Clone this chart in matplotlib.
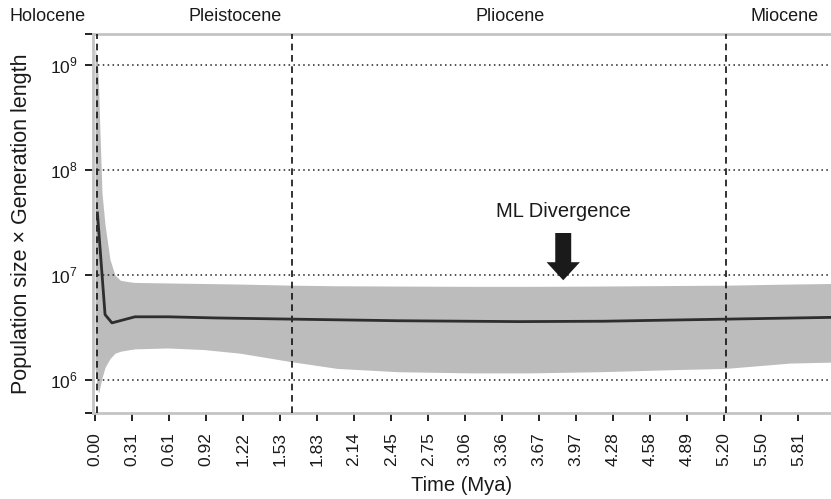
import matplotlib
matplotlib.use("Agg")
import matplotlib.pyplot as plt
from matplotlib.patches import FancyArrowPatch

plt.rcParams['font.family'] = ['Liberation Sans', 'DejaVu Sans']
plt.rcParams['mathtext.fontset'] = 'custom'
plt.rcParams['mathtext.rm'] = 'Liberation Sans'

# ---- data ----
median_t = [0.02, 0.083, 0.14, 0.33, 0.6, 1.0, 1.63, 2.5, 3.5, 4.2, 5.21, 6.08]
median_v = [3.9e7, 4.2e6, 3.5e6, 4.0e6, 4.0e6, 3.9e6, 3.8e6, 3.67e6, 3.6e6, 3.63e6, 3.8e6, 3.95e6]

band_t = [0.0, 0.02, 0.03, 0.04, 0.058, 0.083, 0.124, 0.165, 0.21, 0.29, 0.33, 0.6,
          0.9, 1.2, 1.63, 2.0, 2.5, 3.1, 3.6, 4.17, 4.83, 5.21, 5.74, 6.08]
band_upper = [1.45e9, 1.1e9, 6e8, 2.5e8, 6e7, 3.0e7, 1.4e7, 1.0e7, 8.9e6, 8.6e6, 8.5e6, 8.4e6,
              8.3e6, 8.2e6, 8.0e6, 7.9e6, 7.85e6, 7.8e6, 7.8e6, 7.85e6, 7.95e6, 8.0e6, 8.2e6, 8.3e6]
band_lower = [1.3e6, 8.5e5, 7.5e5, 8.5e5, 1.05e6, 1.32e6, 1.6e6, 1.8e6, 1.88e6, 1.95e6, 1.98e6, 2.02e6,
              1.95e6, 1.8e6, 1.49e6, 1.29e6, 1.2e6, 1.17e6, 1.17e6, 1.2e6, 1.26e6, 1.29e6, 1.45e6, 1.48e6]

xtick_labels = ['0.00', '0.31', '0.61', '0.92', '1.22', '1.53', '1.83', '2.14', '2.45', '2.75',
                '3.06', '3.36', '3.67', '3.97', '4.28', '4.58', '4.89', '5.20', '5.50', '5.81']
xtick_step = 5.81 / 19

epoch_bounds = [0.02, 1.63, 5.21]
epoch_names = ['Holocene', 'Pleistocene', 'Pliocene', 'Miocene']
epoch_label_x = [-0.39, 1.157, 3.43, 5.70]

divergence_t = 3.868
arrow_top, arrow_tip = 10**7.4, 10**6.95

# ---- figure ----
W, H = 831, 499
fig = plt.figure(figsize=(W / 100, H / 100), dpi=100)
ax = fig.add_axes([93 / W, 1 - 413 / H, 1 - 93 / W, (413 - 34) / H])

xmin, xmax = -0.0165, 6.08
ymin, ymax = 10**5.686, 10**9.295
ax.set_xlim(xmin, xmax)
ax.set_yscale('log')
ax.set_ylim(ymin, ymax)

ax.fill_between(band_t, band_lower, band_upper, color='#bcbcbc', lw=0, zorder=1)

for yv in [1e6, 1e7, 1e8, 1e9]:
    ax.axhline(yv, color='#222222', lw=1.1, ls=(0, (1, 2.2)), zorder=2)
for xb in epoch_bounds:
    ax.axvline(xb, color='#111111', lw=1.2, ls=(0, (4, 2.8)), zorder=3)

ax.plot(median_t, median_v, color='#2e2e2e', lw=2, zorder=4, solid_joinstyle='round')

# arrow
arr = FancyArrowPatch((divergence_t, arrow_top), (divergence_t, arrow_tip),
                      arrowstyle='simple,head_length=13,head_width=24,tail_width=11.5',
                      mutation_scale=1, color='#1a1a1a', lw=0, zorder=5, shrinkA=0, shrinkB=0)
ax.add_patch(arr)
ax.text(divergence_t, 10**7.51, 'ML Divergence', ha='center', va='bottom', fontsize=14.5, color='#1a1a1a')

# spines
for s in ['top', 'left', 'bottom']:
    ax.spines[s].set_color('#c4c4c4')
    ax.spines[s].set_linewidth(2)
ax.spines['right'].set_visible(False)

# ticks
ax.set_xticks([i * xtick_step for i in range(len(xtick_labels))])
ax.set_xticklabels(xtick_labels, rotation=90, fontsize=12.5, color='#1a1a1a')
ax.set_yticks([ymin, 1e6, 1e7, 1e8, 1e9, ymax])
ax.set_yticklabels(['', '$10^6$', '$10^7$', '$10^8$', '$10^9$', ''], fontsize=12.5, color='#1a1a1a')
ax.minorticks_off()
ax.tick_params(axis='x', direction='out', length=6, width=1.3, color='#111111', pad=8)
ax.tick_params(axis='y', direction='out', length=6, width=1.3, color='#111111', pad=5)

ax.set_xlabel('Time (Mya)', fontsize=14.5, color='#1a1a1a', labelpad=7)
ax.set_ylabel('Population size \u00d7 Generation length', fontsize=15.5, color='#1a1a1a', labelpad=13)

for name, xl in zip(epoch_names, epoch_label_x):
    ax.text(xl, 1.025, name, transform=ax.get_xaxis_transform(), ha='center', va='bottom',
            fontsize=13, color='#1a1a1a', clip_on=False)

fig.savefig('out.png', dpi=100)
